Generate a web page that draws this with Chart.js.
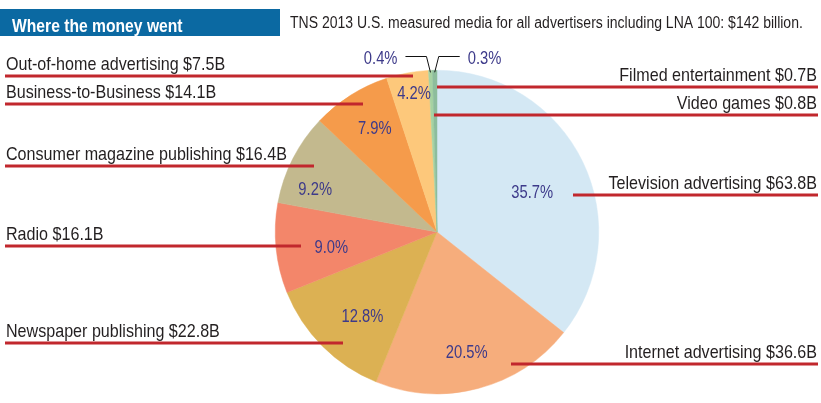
<!DOCTYPE html>
<html>
<head>
<meta charset="utf-8">
<title>Where the money went</title>
<script src="https://cdn.jsdelivr.net/npm/chart.js@4.4.1/dist/chart.umd.min.js"></script>
<style>
  html, body { margin: 0; padding: 0; background: #fff; }
  #chart { display: block; }
</style>
</head>
<body>
<canvas id="chart" width="821" height="403"></canvas>
<script>
// Data: billions of US dollars, clockwise from 12 o'clock
const categories = [
    'Television advertising',
    'Internet advertising',
    'Newspaper publishing',
    'Radio',
    'Consumer magazine publishing',
    'Business-to-Business',
    'Out-of-home advertising',
    'Filmed entertainment',
    'Video games'
];
const spending = [63.8, 36.6, 22.8, 16.1, 16.4, 14.1, 7.5, 0.7, 0.8];
const shareLabels = ['35.7%', '20.5%', '12.8%', '9.0%', '9.2%', '7.9%', '4.2%', '0.4%', '0.3%'];

const titleText = 'Where the money went';
const subtitleText = 'TNS 2013 U.S. measured media for all advertisers including LNA 100: $142 billion.';

// Slice colours
const sliceColors = [
    '#d4e8f4', // television
    '#f6ad7c', // internet
    '#dcb153', // newspaper
    '#f3866a', // radio
    '#c3b98e', // consumer magazines
    '#f59b4b', // business-to-business
    '#fdc87b', // out-of-home
    '#a6d2a2', // filmed entertainment
    '#8dbd9c'  // video games
];

// Category labels: side, y of the red underline, x where the underline reaches into the pie
const labelLayout = [
    { side: 'right', lineY: 195, pieX: 573 },
    { side: 'right', lineY: 364, pieX: 511 },
    { side: 'left',  lineY: 343, pieX: 343 },
    { side: 'left',  lineY: 246, pieX: 301 },
    { side: 'left',  lineY: 166, pieX: 314 },
    { side: 'left',  lineY: 104, pieX: 363 },
    { side: 'left',  lineY: 76,  pieX: 413 },
    { side: 'right', lineY: 87,  pieX: 437 },
    { side: 'right', lineY: 115, pieX: 434 }
];

// Percent labels: [fraction along the slice, fraction of the radius]; null = outside with a leader
const shareLayout = [
    [0.52, 0.64], [0.51, 0.76], [0.43, 0.69], [0.43, 0.66], [0.28, 0.80],
    [0.55, 0.75], [0.58, 0.875], null, null
];
const leaderDir = [0, 0, 0, 0, 0, 0, 0, -1, 1];

const FONT = "'Liberation Sans', Arial, sans-serif";
const RED = '#c1272d';
const TEXT = '#231f20';
const PCT = '#3d3a8a';

// Draw condensed text (the original uses a narrow face)
function drawText(ctx, text, x, y, align, font, color, squeeze) {
    ctx.save();
    ctx.font = font;
    ctx.fillStyle = color;
    ctx.textAlign = 'left';
    ctx.textBaseline = 'alphabetic';
    const w = ctx.measureText(text).width * squeeze;
    const left = align === 'left' ? x : (align === 'right' ? x - w : x - w / 2);
    ctx.translate(left, y);
    ctx.scale(squeeze, 1);
    ctx.fillText(text, 0, 0);
    ctx.restore();
    return w;
}

const annotations = {
    id: 'annotations',
    afterDraw(chart) {
        const ctx = chart.ctx;
        const arcs = chart.getDatasetMeta(0).data;

        // header
        ctx.save();
        ctx.fillStyle = '#0b69a2';
        ctx.fillRect(0, 9, 280, 27);
        ctx.restore();
        drawText(ctx, titleText, 12, 32, 'left', 'bold 18px ' + FONT, '#fff', 0.87);
        drawText(ctx, subtitleText, 290, 28, 'left', '16px ' + FONT, TEXT, 0.875);

        // category labels with red underlines
        categories.forEach((name, i) => {
            const lay = labelLayout[i];
            const text = name + ' $' + spending[i].toFixed(1) + 'B';
            ctx.save();
            ctx.strokeStyle = RED;
            ctx.lineWidth = 3;
            ctx.beginPath();
            if (lay.side === 'left') {
                ctx.moveTo(5, lay.lineY);
                ctx.lineTo(lay.pieX, lay.lineY);
            } else {
                ctx.moveTo(lay.pieX, lay.lineY);
                ctx.lineTo(818, lay.lineY);
            }
            ctx.stroke();
            ctx.restore();
            if (lay.side === 'left') {
                drawText(ctx, text, 6, lay.lineY - 6, 'left', '18.5px ' + FONT, TEXT, 0.87);
            } else {
                drawText(ctx, text, 817, lay.lineY - 6, 'right', '18.5px ' + FONT, TEXT, 0.87);
            }
        });

        // percentage labels
        arcs.forEach((arc, i) => {
            const p = arc.getProps(['x', 'y', 'startAngle', 'endAngle', 'outerRadius'], true);
            const pos = shareLayout[i];
            if (pos) {
                const a = p.startAngle + (p.endAngle - p.startAngle) * pos[0];
                const r = p.outerRadius * pos[1];
                const tx = p.x + Math.cos(a) * r;
                const ty = p.y + Math.sin(a) * r;
                drawText(ctx, shareLabels[i], tx, ty + 6.5, 'center', '18px ' + FONT, PCT, 0.82);
            } else {
                const a = (p.startAngle + p.endAngle) / 2;
                const ex = p.x + Math.cos(a) * p.outerRadius;
                const ey = p.y + Math.sin(a) * p.outerRadius + 2;
                const dir = leaderDir[i];
                const elbowX = ex + dir * 4;
                const endX = elbowX + dir * 21;
                ctx.save();
                ctx.strokeStyle = '#111';
                ctx.lineWidth = 1;
                ctx.beginPath();
                ctx.moveTo(ex, ey);
                ctx.lineTo(elbowX, 56.5);
                ctx.lineTo(endX, 56.5);
                ctx.stroke();
                ctx.restore();
                const tx = endX + dir * 8;
                drawText(ctx, shareLabels[i], tx, 63.5, dir < 0 ? 'right' : 'left', '18px ' + FONT, PCT, 0.82);
            }
        });
    }
};

new Chart(document.getElementById('chart'), {
    type: 'pie',
    data: {
        labels: categories,
        datasets: [{
            data: spending,
            backgroundColor: sliceColors,
            borderColor: sliceColors,
            borderWidth: 0.5
        }]
    },
    options: {
        responsive: false,
        animation: false,
        layout: {
            padding: { left: 275, right: 222, top: 70, bottom: 9 }
        },
        plugins: {
            legend: { display: false },
            tooltip: { enabled: false }
        }
    },
    plugins: [annotations]
});
</script>
</body>
</html>
